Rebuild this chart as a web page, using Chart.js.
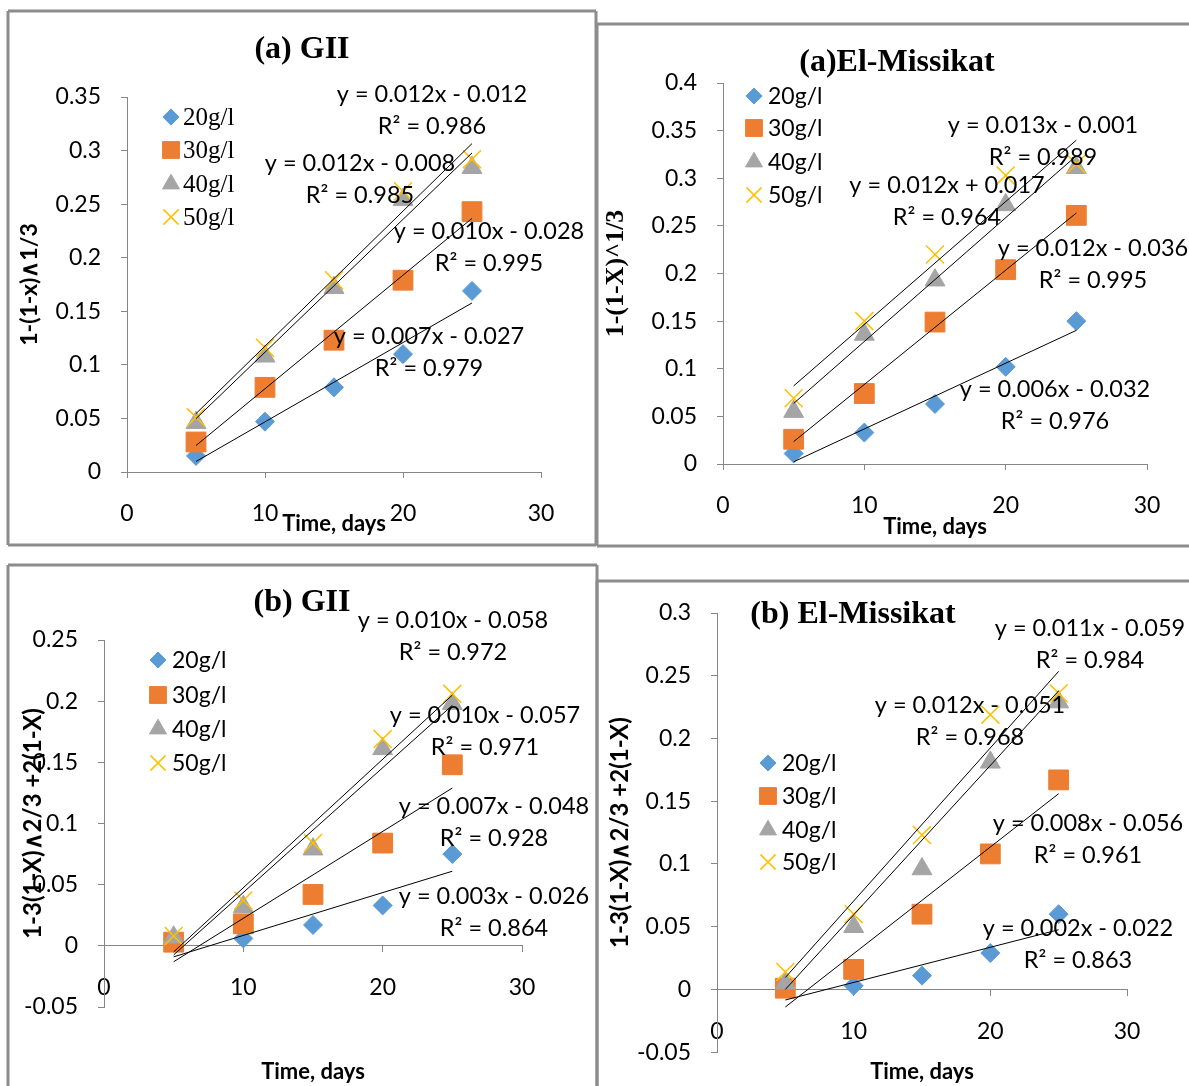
<!DOCTYPE html>
<html lang="en">
<head>
<meta charset="UTF-8">
<title>Leaching kinetics</title>
<script src="https://cdn.jsdelivr.net/npm/chart.js@4.4.1/dist/chart.umd.min.js"></script>
<style>
    body { margin: 0; background: #fff; }
    #wrap { position: relative; width: 1189px; height: 1086px; overflow: hidden; }
    #wrap canvas { position: absolute; left: 0; top: 0; }
</style>
</head>
<body>
<div id="wrap">
    <canvas id="c1" width="1189" height="1086"></canvas>
    <canvas id="c2" width="1189" height="1086"></canvas>
    <canvas id="c3" width="1189" height="1086"></canvas>
    <canvas id="c4" width="1189" height="1086"></canvas>
</div>
<script>
// sampling days and acid concentrations
var days = [5, 10, 15, 20, 25];
var concLabels = ['20g/l', '30g/l', '40g/l', '50g/l'];
var xTicks = [0, 10, 20, 30];

// (a) GII : 1-(1-x)^1/3
var giiA20 = [0.015, 0.047, 0.079, 0.110, 0.169];
var giiA30 = [0.028, 0.079, 0.123, 0.179, 0.243];
var giiA40 = [0.046, 0.108, 0.172, 0.254, 0.284];
var giiA50 = [0.051, 0.116, 0.179, 0.262, 0.292];
var giiASlope = [0.0074, 0.0106, 0.0124, 0.0126];
var giiAIntercept = [-0.0272, -0.0283, -0.0122, -0.0085];
var giiAR2 = [0.979, 0.995, 0.986, 0.985];

// (a) El-Missikat : 1-(1-X)^1/3
var misA20 = [0.011, 0.033, 0.063, 0.102, 0.150];
var misA30 = [0.026, 0.074, 0.149, 0.204, 0.261];
var misA40 = [0.055, 0.136, 0.193, 0.272, 0.311];
var misA50 = [0.069, 0.150, 0.220, 0.303, 0.315];
var misASlope = [0.0069, 0.0120, 0.0130, 0.0129];
var misAIntercept = [-0.0322, -0.0365, -0.0014, 0.0175];
var misAR2 = [0.976, 0.995, 0.989, 0.964];

// (b) GII : 1-3(1-X)^2/3 + 2(1-X)
var giiB20 = [0.005, 0.006, 0.017, 0.033, 0.075];
var giiB30 = [0.003, 0.018, 0.042, 0.084, 0.148];
var giiB40 = [0.007, 0.032, 0.079, 0.161, 0.198];
var giiB50 = [0.008, 0.037, 0.084, 0.169, 0.206];
var giiBSlope = [0.0035, 0.0071, 0.0102, 0.0105];
var giiBIntercept = [-0.0265, -0.0485, -0.0584, -0.0575];
var giiBR2 = [0.864, 0.928, 0.972, 0.971];

// (b) El-Missikat : 1-3(1-X)^2/3 + 2(1-X)
var misB20 = [0.001, 0.003, 0.011, 0.029, 0.060];
var misB30 = [0.001, 0.016, 0.060, 0.108, 0.167];
var misB40 = [0.005, 0.050, 0.096, 0.181, 0.229];
var misB50 = [0.014, 0.060, 0.123, 0.219, 0.236];
var misBSlope = [0.0028, 0.0085, 0.0119, 0.0122];
var misBIntercept = [-0.0224, -0.0565, -0.0595, -0.0515];
var misBR2 = [0.863, 0.961, 0.984, 0.968];

var SANS = 'Lato, "Open Sans", sans-serif';
var SERIF = '"Liberation Serif", "DejaVu Serif", serif';
var AXIS_GREY = '#868686';
var FRAME_GREY = '#8c8c8c';

var markers = [
    { pointStyle: 'rectRot', radius: 9.5, color: '#5B9BD5', border: 1 },
    { pointStyle: 'rect', radius: 14, color: '#ED7D31', border: 1 },
    { pointStyle: 'triangle', radius: 11.5, color: '#A5A5A5', border: 1 },
    { pointStyle: 'crossRot', radius: 12.7, color: '#FFC000', border: 1.5 }
];

// panel layout (page pixels)
var panels = [
    {
        canvas: 'c1', title: '(a) GII', titleAt: [302, 50],
        frame: [[8, 11, 596, 11], [596, 11, 596, 545], [8, 545, 596, 545], [8, 11, 8, 545]],
        plot: { left: 127, right: 541, top: 97, bottom: 472 },
        yMin: 0, yMax: 0.35, xAtZero: false,
        yTitle: '1-(1-x)\u22271/3', yTitleFont: { family: SANS, weight: 'bold', size: 23 }, yTitleX: 30,
        xTitleY: 524,
        legendFont: SERIF, legendSize: 25, legendX: 171, legendY: [117, 150, 184, 217], legendTextX: 183,
        series: [giiA20, giiA30, giiA40, giiA50],
        slope: giiASlope, intercept: giiAIntercept, r2: giiAR2,
        eqAt: [[429, 336], [489, 231], [432, 94], [360, 163]]
    },
    {
        canvas: 'c2', title: '(a)El-Missikat', titleAt: [897, 63],
        frame: [[597, 24, 1189, 24], [597, 24, 597, 546], [597, 546, 1189, 546]],
        plot: { left: 723, right: 1147, top: 83, bottom: 464 },
        yMin: 0, yMax: 0.4, xAtZero: false,
        yTitle: '1-(1-X)^1/3', yTitleFont: { family: SERIF, weight: 'bold', size: 26 }, yTitleX: 616,
        xTitleY: 527,
        legendFont: SANS, legendSize: 23, legendX: 754, legendY: [96, 128, 162, 195], legendTextX: 768,
        series: [misA20, misA30, misA40, misA50],
        slope: misASlope, intercept: misAIntercept, r2: misAR2,
        eqAt: [[1055, 389], [1093, 248], [1043, 125], [947, 185]]
    },
    {
        canvas: 'c3', title: '(b) GII', titleAt: [302, 603],
        frame: [[8, 565, 597, 565], [8, 565, 8, 1086], [597, 565, 597, 1086]],
        plot: { left: 104, right: 522, top: 640, bottom: 1007 },
        yMin: -0.05, yMax: 0.25, xAtZero: true,
        yTitle: '1-3(1-X)\u22272/3 +2(1-X)', yTitleFont: { family: SANS, weight: 'bold', size: 24 }, yTitleX: 33,
        xTitleY: 1072,
        legendFont: SANS, legendSize: 23, legendX: 158, legendY: [660, 695, 729, 763], legendTextX: 172,
        series: [giiB20, giiB30, giiB40, giiB50],
        slope: giiBSlope, intercept: giiBIntercept, r2: giiBR2,
        eqAt: [[494, 896], [494, 806], [453, 620], [485, 715]]
    },
    {
        canvas: 'c4', title: '(b) El-Missikat', titleAt: [853, 615],
        frame: [[597, 581, 1189, 581], [597, 581, 597, 1086]],
        plot: { left: 717, right: 1127, top: 613, bottom: 1053 },
        yMin: -0.05, yMax: 0.3, xAtZero: true,
        yTitle: '1-3(1-X)\u22272/3 +2(1-X)', yTitleFont: { family: SANS, weight: 'bold', size: 24 }, yTitleX: 620,
        xTitleY: 1073,
        legendFont: SANS, legendSize: 23, legendX: 768, legendY: [763, 796, 830, 862], legendTextX: 782,
        series: [misB20, misB30, misB40, misB50],
        slope: misBSlope, intercept: misBIntercept, r2: misBR2,
        eqAt: [[1078, 928], [1088, 823], [1090, 628], [970, 705]]
    }
];

// trendline coefficients are shown cut to three decimals
function cut3(v) {
    return (Math.floor(Math.abs(v) * 1000 + 1e-6) / 1000).toFixed(3);
}
function equationText(m, b) {
    return 'y = ' + cut3(m) + 'x ' + (b < 0 ? '- ' : '+ ') + cut3(b);
}

// frame, title, legend and trendline equations
var notesPlugin = {
    id: 'notes',
    beforeDraw: function (chart, args, o) {
        var ctx = chart.ctx;
        ctx.save();
        ctx.strokeStyle = FRAME_GREY;
        ctx.lineWidth = 3;
        o.frame.forEach(function (s) {
            ctx.beginPath();
            ctx.moveTo(s[0], s[1]);
            ctx.lineTo(s[2], s[3]);
            ctx.stroke();
        });
        ctx.restore();
    },
    afterDraw: function (chart, args, o) {
        var ctx = chart.ctx;
        ctx.save();
        ctx.fillStyle = '#000';
        ctx.textAlign = 'center';
        ctx.textBaseline = 'middle';
        ctx.font = 'bold 32px ' + SERIF;
        ctx.fillText(o.title, o.titleAt[0], o.titleAt[1]);

        // legend
        for (var i = 0; i < concLabels.length; i++) {
            var mk = markers[i];
            ctx.fillStyle = mk.color;
            ctx.strokeStyle = mk.color;
            ctx.lineWidth = mk.border;
            Chart.helpers.drawPoint(ctx, {
                pointStyle: mk.pointStyle, radius: mk.radius * 0.85, rotation: 0, borderWidth: mk.border
            }, o.legendX, o.legendY[i]);
            ctx.fillStyle = '#000';
            ctx.textAlign = 'left';
            ctx.font = o.legendSize + 'px ' + o.legendFont;
            ctx.fillText(concLabels[i], o.legendTextX, o.legendY[i] + 1);
        }

        // equations with R²
        ctx.textAlign = 'center';
        ctx.font = '23.5px ' + SANS;
        for (var k = 0; k < o.eqAt.length; k++) {
            var at = o.eqAt[k];
            ctx.fillText(equationText(o.slope[k], o.intercept[k]), at[0], at[1]);
            ctx.fillText('R\u00B2 = ' + o.r2[k].toFixed(3), at[0], at[1] + 32);
        }
        ctx.restore();
    }
};

function buildChart(p) {
    var tickFont = { family: SANS, size: 23 };
    var xTitleFont = { family: SANS, weight: 'bold', size: 22 };
    var xLine = xTitleFont.size * 1.2;
    var yLine = p.yTitleFont.size * 1.2;
    var yAxisWidth = p.plot.left - p.yTitleX + yLine / 2;
    var xAxisHeight = p.xTitleY - p.plot.bottom + xLine / 2;

    var datasets = [];
    p.series.forEach(function (vals, i) {
        var mk = markers[i];
        datasets.push({
            type: 'scatter',
            label: concLabels[i],
            data: days.map(function (d, j) { return { x: d, y: vals[j] }; }),
            pointStyle: mk.pointStyle,
            pointRadius: mk.radius,
            backgroundColor: mk.color,
            borderColor: mk.color,
            borderWidth: mk.border,
            order: 4 - i
        });
    });
    p.slope.forEach(function (m, i) {
        var b = p.intercept[i];
        var x0 = days[0], x1 = days[days.length - 1];
        datasets.push({
            type: 'line',
            label: 'Linear (' + concLabels[i] + ')',
            data: [{ x: x0, y: m * x0 + b }, { x: x1, y: m * x1 + b }],
            borderColor: '#000',
            borderWidth: 1,
            pointRadius: 0,
            fill: false,
            order: 0
        });
    });

    // when x is placed at y = 0 its title offset is measured from that line
    if (p.xAtZero) {
        var zeroPx = p.plot.bottom - (0 - p.yMin) / (p.yMax - p.yMin) * (p.plot.bottom - p.plot.top);
        xAxisHeight = p.xTitleY - zeroPx + xLine / 2;
    }

    return new Chart(document.getElementById(p.canvas), {
        type: 'scatter',
        data: { datasets: datasets },
        plugins: [notesPlugin],
        options: {
            responsive: false,
            animation: false,
            devicePixelRatio: 1,
            layout: {
                padding: {
                    left: p.plot.left - yAxisWidth,
                    right: 1189 - p.plot.right,
                    top: p.plot.top,
                    bottom: p.xAtZero ? 1086 - p.plot.bottom : 1086 - p.plot.bottom - xAxisHeight
                }
            },
            plugins: {
                legend: { display: false },
                tooltip: { enabled: false },
                notes: p
            },
            scales: {
                x: {
                    type: 'linear',
                    min: xTicks[0],
                    max: xTicks[xTicks.length - 1],
                    position: p.xAtZero ? { y: 0 } : 'bottom',
                    afterBuildTicks: function (s) { s.ticks = xTicks.map(function (v) { return { value: v }; }); },
                    ticks: { font: tickFont, color: '#000', padding: 22, maxRotation: 0 },
                    grid: { drawOnChartArea: false, drawTicks: true, tickLength: 6, color: AXIS_GREY },
                    border: { color: AXIS_GREY, width: 1 },
                    title: { display: true, text: 'Time, days', font: xTitleFont, color: '#000', padding: 0 },
                    afterFit: function (s) { s.height = xAxisHeight; }
                },
                y: {
                    type: 'linear',
                    min: p.yMin,
                    max: p.yMax,
                    position: 'left',
                    ticks: {
                        stepSize: 0.05,
                        font: tickFont,
                        color: '#000',
                        padding: 20,
                        callback: function (v) { return String(+v.toFixed(2)); }
                    },
                    grid: { drawOnChartArea: false, drawTicks: true, tickLength: 6, color: AXIS_GREY },
                    border: { color: AXIS_GREY, width: 1 },
                    title: { display: true, text: p.yTitle, font: p.yTitleFont, color: '#000', padding: 0 },
                    afterFit: function (s) { s.width = yAxisWidth; }
                }
            }
        }
    });
}

panels.forEach(buildChart);
</script>
</body>
</html>
